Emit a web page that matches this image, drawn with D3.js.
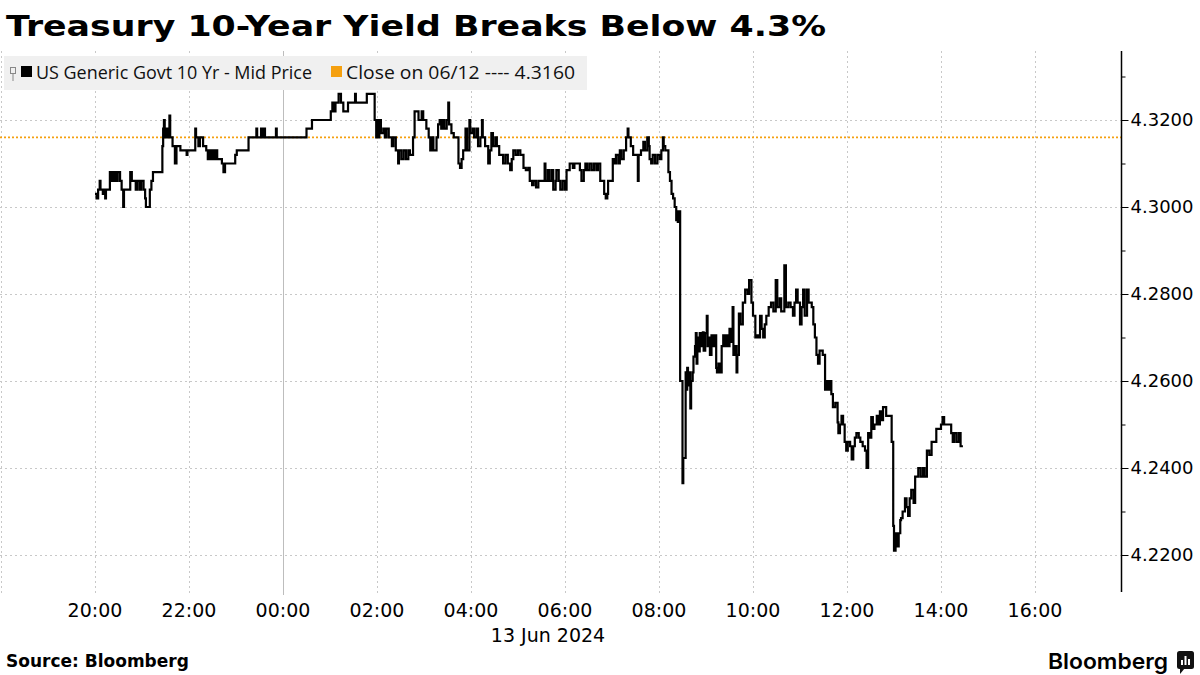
<!DOCTYPE html>
<html>
<head>
<meta charset="utf-8">
<script src="https://cdn.jsdelivr.net/npm/d3@7"></script>
<style>
  body { margin: 0; background: #fff; }
  svg { display: block; }
</style>
</head>
<body>
<div id="chart"></div>
<script>
(function(d3) {
  'use strict';

  // US Generic Govt 10 Yr mid price (time, yield)
  var yieldTicks = [
    ['20:00', 4.303], ['20:02', 4.302], ['20:04', 4.304], ['20:06', 4.306], ['20:07', 4.304],
    ['20:10', 4.303], ['20:12', 4.304], ['20:13', 4.302], ['20:14', 4.304], ['20:19', 4.308],
    ['20:20', 4.306], ['20:21', 4.308], ['20:23', 4.306], ['20:25', 4.308], ['20:27', 4.306],
    ['20:29', 4.308], ['20:32', 4.306], ['20:34', 4.304], ['20:36', 4.300], ['20:37', 4.304],
    ['20:45', 4.308], ['20:47', 4.306], ['20:49', 4.306], ['20:52', 4.304], ['20:54', 4.306],
    ['20:57', 4.304], ['20:59', 4.306], ['21:02', 4.304], ['21:04', 4.302], ['21:05', 4.300],
    ['21:10', 4.304], ['21:12', 4.306], ['21:14', 4.308], ['21:26', 4.314], ['21:27', 4.318],
    ['21:28', 4.320], ['21:29', 4.316], ['21:31', 4.318], ['21:33', 4.316], ['21:35', 4.321],
    ['21:36', 4.316], ['21:39', 4.314], ['21:42', 4.310], ['21:44', 4.314], ['21:49', 4.313],
    ['21:57', 4.312], ['21:58', 4.313], ['22:08', 4.318], ['22:09', 4.316], ['22:12', 4.314],
    ['22:14', 4.316], ['22:18', 4.314], ['22:22', 4.313], ['22:24', 4.311], ['22:26', 4.313],
    ['22:28', 4.311], ['22:30', 4.313], ['22:32', 4.311], ['22:34', 4.313], ['22:36', 4.311],
    ['22:42', 4.310], ['22:44', 4.308], ['22:46', 4.310], ['22:59', 4.312], ['23:01', 4.313],
    ['23:16', 4.316], ['23:26', 4.318], ['23:27', 4.316], ['23:32', 4.318], ['23:33', 4.316],
    ['23:35', 4.318], ['23:37', 4.316], ['23:51', 4.318], ['23:52', 4.316], ['00:30', 4.318],
    ['00:37', 4.320], ['01:01', 4.322], ['01:03', 4.324], ['01:05', 4.322], ['01:07', 4.324],
    ['01:11', 4.326], ['01:14', 4.324], ['01:17', 4.322], ['01:23', 4.324], ['01:32', 4.326],
    ['01:33', 4.324], ['01:47', 4.326], ['01:57', 4.320], ['01:59', 4.316], ['02:00', 4.320],
    ['02:01', 4.316], ['02:03', 4.320], ['02:05', 4.317], ['02:08', 4.318], ['02:10', 4.316],
    ['02:12', 4.318], ['02:15', 4.316], ['02:19', 4.314], ['02:21', 4.316], ['02:24', 4.313],
    ['02:27', 4.310], ['02:28', 4.313], ['02:31', 4.311], ['02:34', 4.313], ['02:37', 4.311],
    ['02:40', 4.313], ['02:42', 4.312], ['02:46', 4.316], ['02:48', 4.322], ['02:53', 4.320],
    ['02:57', 4.322], ['02:59', 4.320], ['03:03', 4.318], ['03:06', 4.316], ['03:08', 4.313],
    ['03:10', 4.316], ['03:12', 4.313], ['03:16', 4.316], ['03:18', 4.319], ['03:20', 4.320],
    ['03:22', 4.318], ['03:24', 4.320], ['03:26', 4.318], ['03:29', 4.320], ['03:31', 4.324],
    ['03:32', 4.319], ['03:35', 4.317], ['03:38', 4.316], ['03:44', 4.310], ['03:46', 4.309],
    ['03:48', 4.311], ['03:50', 4.313], ['03:53', 4.318], ['03:55', 4.313], ['03:58', 4.320],
    ['03:59', 4.317], ['04:02', 4.318], ['04:04', 4.316], ['04:07', 4.318], ['04:09', 4.314],
    ['04:12', 4.316], ['04:14', 4.320], ['04:15', 4.316], ['04:18', 4.314], ['04:22', 4.310],
    ['04:24', 4.313], ['04:26', 4.317], ['04:28', 4.314], ['04:31', 4.316], ['04:33', 4.314],
    ['04:36', 4.312], ['04:41', 4.310], ['04:44', 4.312], ['04:47', 4.310], ['04:50', 4.3085],
    ['04:52', 4.311], ['04:54', 4.313], ['04:57', 4.312], ['05:00', 4.313], ['05:03', 4.312],
    ['05:07', 4.309], ['05:10', 4.3085], ['05:13', 4.309], ['05:15', 4.306], ['05:18', 4.305],
    ['05:20', 4.306], ['05:23', 4.3045], ['05:26', 4.306], ['05:34', 4.310], ['05:35', 4.306],
    ['05:38', 4.3085], ['05:40', 4.306], ['05:43', 4.3085], ['05:45', 4.304], ['05:48', 4.306],
    ['05:49', 4.3085], ['05:52', 4.306], ['05:54', 4.304], ['05:57', 4.306], ['06:00', 4.304],
    ['06:02', 4.3085], ['06:06', 4.310], ['06:10', 4.309], ['06:12', 4.310], ['06:19', 4.3085],
    ['06:21', 4.306], ['06:24', 4.3085], ['06:26', 4.310], ['06:28', 4.3085], ['06:31', 4.310],
    ['06:34', 4.3085], ['06:37', 4.310], ['06:40', 4.3085], ['06:42', 4.310], ['06:45', 4.306],
    ['06:50', 4.303], ['06:52', 4.302], ['06:54', 4.303], ['06:55', 4.306], ['07:01', 4.311],
    ['07:03', 4.310], ['07:05', 4.312], ['07:08', 4.310], ['07:10', 4.313], ['07:12', 4.311],
    ['07:15', 4.313], ['07:18', 4.316], ['07:20', 4.318], ['07:21', 4.316], ['07:24', 4.314],
    ['07:27', 4.312], ['07:33', 4.306], ['07:34', 4.312], ['07:37', 4.313], ['07:40', 4.315],
    ['07:42', 4.313], ['07:45', 4.316], ['07:47', 4.314], ['07:48', 4.311], ['07:50', 4.310],
    ['07:52', 4.312], ['07:55', 4.310], ['07:58', 4.312], ['08:01', 4.311], ['08:03', 4.313],
    ['08:05', 4.316], ['08:06', 4.314], ['08:08', 4.313], ['08:12', 4.308], ['08:14', 4.306],
    ['08:16', 4.303], ['08:18', 4.302], ['08:20', 4.300], ['08:22', 4.297], ['08:23', 4.299],
    ['08:24', 4.2966], ['08:25', 4.299], ['08:27', 4.260], ['08:30', 4.2365], ['08:31', 4.2423],
    ['08:34', 4.262], ['08:35', 4.258], ['08:36', 4.263], ['08:37', 4.259], ['08:38', 4.262],
    ['08:40', 4.2537], ['08:41', 4.260], ['08:43', 4.262], ['08:44', 4.2656], ['08:46', 4.268],
    ['08:47', 4.271], ['08:48', 4.264], ['08:49', 4.270], ['08:51', 4.2668], ['08:52', 4.271],
    ['08:54', 4.268], ['08:56', 4.2712], ['08:57', 4.267], ['08:59', 4.271], ['09:01', 4.275],
    ['09:02', 4.268], ['09:04', 4.270], ['09:05', 4.266], ['09:07', 4.2705], ['09:09', 4.268],
    ['09:11', 4.2705], ['09:13', 4.263], ['09:14', 4.262], ['09:16', 4.264], ['09:18', 4.262],
    ['09:20', 4.268], ['09:22', 4.2705], ['09:24', 4.268], ['09:26', 4.2705], ['09:28', 4.268],
    ['09:30', 4.272], ['09:32', 4.269], ['09:34', 4.277], ['09:35', 4.266], ['09:37', 4.268],
    ['09:39', 4.262], ['09:40', 4.266], ['09:42', 4.2755], ['09:44', 4.273], ['09:47', 4.278],
    ['09:50', 4.281], ['09:53', 4.280], ['09:55', 4.2832], ['09:58', 4.278], ['10:00', 4.275],
    ['10:03', 4.270], ['10:05', 4.2705], ['10:07', 4.270], ['10:09', 4.275], ['10:11', 4.272],
    ['10:13', 4.270], ['10:15', 4.273], ['10:17', 4.275], ['10:20', 4.277], ['10:23', 4.278],
    ['10:26', 4.276], ['10:29', 4.2832], ['10:31', 4.277], ['10:34', 4.279], ['10:36', 4.276],
    ['10:40', 4.2866], ['10:42', 4.277], ['10:45', 4.278], ['10:48', 4.277], ['10:51', 4.275],
    ['10:53', 4.278], ['10:55', 4.281], ['10:57', 4.278], ['11:00', 4.273], ['11:02', 4.277],
    ['11:04', 4.281], ['11:06', 4.275], ['11:09', 4.281], ['11:11', 4.278], ['11:15', 4.277],
    ['11:17', 4.273], ['11:19', 4.270], ['11:21', 4.266], ['11:23', 4.264], ['11:25', 4.267],
    ['11:29', 4.266], ['11:32', 4.258], ['11:34', 4.260], ['11:36', 4.258], ['11:38', 4.260],
    ['11:40', 4.257], ['11:42', 4.254], ['11:45', 4.255], ['11:48', 4.2505], ['11:49', 4.248],
    ['11:51', 4.250], ['11:53', 4.252], ['11:55', 4.250], ['11:57', 4.246], ['11:59', 4.244],
    ['12:01', 4.246], ['12:04', 4.245], ['12:06', 4.242], ['12:08', 4.245], ['12:10', 4.247],
    ['12:12', 4.248], ['12:15', 4.247], ['12:17', 4.246], ['12:20', 4.245], ['12:23', 4.244],
    ['12:25', 4.240], ['12:27', 4.248], ['12:29', 4.247], ['12:31', 4.2517], ['12:33', 4.249],
    ['12:35', 4.250], ['12:38', 4.252], ['12:40', 4.250], ['12:42', 4.253], ['12:44', 4.251],
    ['12:46', 4.254], ['12:50', 4.252], ['12:57', 4.246], ['12:59', 4.2267], ['13:00', 4.221],
    ['13:02', 4.225], ['13:04', 4.222], ['13:06', 4.225], ['13:08', 4.228], ['13:09', 4.2285],
    ['13:11', 4.230], ['13:14', 4.233], ['13:16', 4.231], ['13:18', 4.229], ['13:20', 4.233],
    ['13:22', 4.235], ['13:25', 4.232], ['13:27', 4.238], ['13:31', 4.240], ['13:34', 4.238],
    ['13:37', 4.240], ['13:39', 4.238], ['13:42', 4.244], ['13:45', 4.243], ['13:48', 4.246],
    ['13:54', 4.249], ['14:00', 4.250], ['14:02', 4.2517], ['14:04', 4.250], ['14:13', 4.248],
    ['14:15', 4.246], ['14:17', 4.248], ['14:20', 4.246], ['14:23', 4.248], ['14:25', 4.245],
    ['14:28', 4.245]
  ];

  var hourTicks = [18, 20, 22, 0, 2, 4, 6, 8, 10, 12, 14, 16];
  var yMajor = [4.22, 4.24, 4.26, 4.28, 4.30, 4.32];
  var yMinor = [4.23, 4.25, 4.27, 4.29, 4.31, 4.33];
  var closeValue = 4.316;

  var width = 1200;
  var height = 675;
  var plotLeft = 0, plotRight = 1121, plotTop = 51, plotBottom = 592;
  var axisFont = 'DejaVu Sans, Verdana, sans-serif';
  var orange = '#f5a00f';

  // everything before 18:00 belongs to 13 Jun
  function toDate(hm) {
    var p = hm.split(':');
    var h = +p[0];
    return new Date(2024, 5, h >= 18 ? 12 : 13, h, +p[1]);
  }
  function hourDate(h) {
    return new Date(2024, 5, h >= 18 ? 12 : 13, h, 0);
  }

  var data = yieldTicks.map(function(d) { return { t: toDate(d[0]), v: d[1] }; });

  var x = d3.scaleTime()
    .domain([hourDate(20), hourDate(16)])
    .range([95, 1035]);

  var y = d3.scaleLinear()
    .domain([4.22, 4.32])
    .range([555, 120]);

  var svg = d3.select('#chart')
    .append('svg')
    .attr('width', width)
    .attr('height', height);

  svg.append('rect')
    .attr('width', width)
    .attr('height', height)
    .attr('fill', '#fff');

  // title
  svg.append('text')
    .attr('x', 6)
    .attr('y', 36)
    .attr('textLength', 820)
    .attr('lengthAdjust', 'spacingAndGlyphs')
    .style('font-family', 'DejaVu Sans, Verdana, sans-serif')
    .style('font-weight', 'bold')
    .style('font-size', '29px')
    .style('fill', '#000')
    .text('Treasury 10-Year Yield Breaks Below 4.3%');

  // gridlines
  svg.append('g')
    .selectAll('line')
    .data(yMajor)
    .enter()
    .append('line')
    .attr('x1', plotLeft)
    .attr('x2', plotRight)
    .attr('y1', function(d) { return Math.round(y(d)) + 0.5; })
    .attr('y2', function(d) { return Math.round(y(d)) + 0.5; })
    .style('stroke', '#c8c8c8')
    .style('stroke-dasharray', '2,3');

  svg.append('g')
    .selectAll('line')
    .data(hourTicks)
    .enter()
    .append('line')
    .attr('x1', function(d) { return Math.round(x(hourDate(d))) + 0.5; })
    .attr('x2', function(d) { return Math.round(x(hourDate(d))) + 0.5; })
    .attr('y1', plotTop)
    .attr('y2', plotBottom + 3)
    .style('stroke', function(d) { return d === 0 ? '#bdbdbd' : '#c8c8c8'; })
    .style('stroke-dasharray', function(d) { return d === 0 ? null : '2,3'; });

  // legend
  var legend = svg.append('g');
  legend.append('rect')
    .attr('x', 4)
    .attr('y', 56)
    .attr('width', 583)
    .attr('height', 34)
    .attr('fill', '#f0f0f0');

  legend.append('rect')
    .attr('x', 10.5)
    .attr('y', 67.5)
    .attr('width', 5)
    .attr('height', 6)
    .attr('fill', 'none')
    .style('stroke', '#888');
  legend.append('line')
    .attr('x1', 13)
    .attr('x2', 13)
    .attr('y1', 74)
    .attr('y2', 81)
    .style('stroke', '#888');

  legend.append('rect')
    .attr('x', 21)
    .attr('y', 66)
    .attr('width', 11)
    .attr('height', 11)
    .attr('fill', '#000');

  legend.append('text')
    .attr('x', 36)
    .attr('y', 79)
    .attr('textLength', 276)
    .attr('lengthAdjust', 'spacingAndGlyphs')
    .style('font-family', 'Open Sans, sans-serif')
    .style('font-size', '18px')
    .style('fill', '#111')
    .text('US Generic Govt 10 Yr - Mid Price');

  legend.append('rect')
    .attr('x', 331)
    .attr('y', 66)
    .attr('width', 11)
    .attr('height', 11)
    .attr('fill', orange);

  legend.append('text')
    .attr('x', 346)
    .attr('y', 79)
    .attr('textLength', 229)
    .attr('lengthAdjust', 'spacingAndGlyphs')
    .style('font-family', 'Open Sans, sans-serif')
    .style('font-size', '18px')
    .style('fill', '#111')
    .text('Close on 06/12 ---- 4.3160');

  // previous close
  svg.append('line')
    .attr('x1', plotLeft)
    .attr('x2', plotRight)
    .attr('y1', y(closeValue))
    .attr('y2', y(closeValue))
    .style('stroke', orange)
    .style('stroke-width', 1.6)
    .style('stroke-dasharray', '2,2');

  // yield line
  var line = d3.line()
    .x(function(d) { return x(d.t); })
    .y(function(d) { return y(d.v); })
    .curve(d3.curveStepAfter);

  svg.append('path')
    .datum(data)
    .attr('d', line)
    .attr('fill', 'none')
    .style('stroke', '#000')
    .style('stroke-width', 2.2)
    .style('stroke-linejoin', 'miter');

  // right axis
  svg.append('line')
    .attr('x1', plotRight + 0.5)
    .attr('x2', plotRight + 0.5)
    .attr('y1', plotTop)
    .attr('y2', plotBottom)
    .style('stroke', '#000')
    .style('stroke-width', 1.5);

  var yAxis = svg.append('g')
    .attr('transform', 'translate(' + (plotRight + 0.5) + ',0)')
    .call(d3.axisRight(y)
      .tickValues(yMajor)
      .tickSize(7)
      .tickPadding(2)
      .tickFormat(d3.format('.4f')));
  yAxis.select('.domain').remove();
  yAxis.selectAll('text')
    .style('font-family', axisFont)
    .style('font-size', '18px')
    .style('fill', '#000');

  var yMinorAxis = svg.append('g')
    .attr('transform', 'translate(' + (plotRight + 0.5) + ',0)')
    .call(d3.axisRight(y)
      .tickValues(yMinor)
      .tickSize(4)
      .tickFormat(''));
  yMinorAxis.select('.domain').remove();

  // bottom labels
  svg.append('g')
    .selectAll('text')
    .data(hourTicks.filter(function(h) { return h !== 18; }))
    .enter()
    .append('text')
    .attr('x', function(d) { return x(hourDate(d)); })
    .attr('y', 617)
    .attr('text-anchor', 'middle')
    .style('font-family', axisFont)
    .style('font-size', '19px')
    .style('fill', '#000')
    .text(function(d) { return d3.timeFormat('%H:%M')(hourDate(d)); });

  svg.append('text')
    .attr('x', 548)
    .attr('y', 642)
    .attr('text-anchor', 'middle')
    .style('font-family', axisFont)
    .style('font-size', '19px')
    .style('fill', '#000')
    .text('13 Jun 2024');

  // footer
  svg.append('text')
    .attr('x', 6)
    .attr('y', 667)
    .style('font-family', 'DejaVu Sans, Verdana, sans-serif')
    .style('font-weight', 'bold')
    .style('font-size', '17px')
    .style('fill', '#000')
    .text('Source: Bloomberg');

  svg.append('text')
    .attr('x', 1048)
    .attr('y', 669)
    .attr('textLength', 120)
    .attr('lengthAdjust', 'spacingAndGlyphs')
    .style('font-family', 'Inter, sans-serif')
    .style('font-weight', 600)
    .style('font-size', '22px')
    .style('fill', '#000')
    .text('Bloomberg');

  var logo = svg.append('g').attr('transform', 'translate(1177,651)');
  logo.append('rect')
    .attr('width', 17)
    .attr('height', 18)
    .attr('rx', 2.5)
    .attr('fill', '#111');
  logo.append('path')
    .attr('d', 'M3,17 L3,23 L8,17 Z')
    .attr('fill', '#111');
  [[4, 9, 5], [7.5, 5, 9], [11, 8, 6]].forEach(function(b) {
    logo.append('rect')
      .attr('x', b[0])
      .attr('y', b[1])
      .attr('width', 2)
      .attr('height', b[2])
      .attr('fill', '#fff');
  });

})(window.d3);
</script>
</body>
</html>
